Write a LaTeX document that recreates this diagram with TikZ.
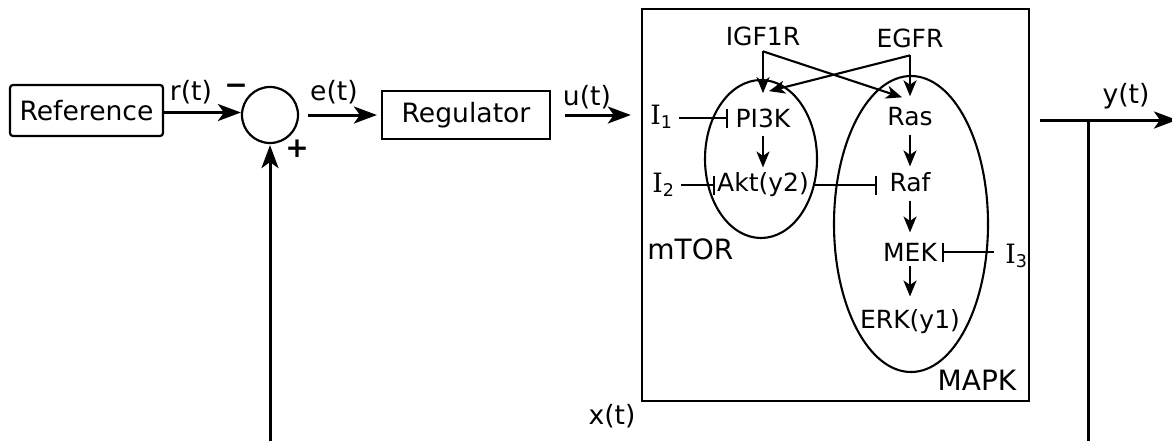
\documentclass[tikz,border=0pt]{standalone}
\usepackage{fontspec}
\setmainfont{DejaVu Sans}
\newfontfamily\serifI{DejaVu Serif}
\usetikzlibrary{arrows.meta,shapes.geometric,calc}
\begin{document}
\begin{tikzpicture}[x=0.5pt,y=-0.5pt,
  font=\fontsize{12.5}{15}\selectfont,
  lbl/.style={inner sep=0pt},
  siglbl/.style={inner sep=0pt,font=\fontsize{13.3}{16}\selectfont},
  biglbl/.style={inner sep=0pt,font=\fontsize{14}{16}\selectfont},
  signlbl/.style={inner sep=0pt,font=\fontsize{14}{16}\selectfont\bfseries},
  blockbox/.style={draw,line width=1.1pt,inner sep=0pt,font=\fontsize{13.3}{16}\selectfont},
  bigarr/.style={line width=1.5pt,-{Stealth[length=11.5pt,width=8.5pt,inset=3pt]}},
  fbline/.style={line width=1.5pt},
  act/.style={line width=1.05pt,-{Stealth[length=8pt,width=6.5pt,inset=2.2pt]}},
  inh/.style={line width=1.05pt,-{Bar[width=9.5pt,line width=1.05pt]}},
  group/.style={draw,ellipse,line width=1.05pt,inner sep=0pt},
]
\useasboundingbox (0,0) rectangle (1172,440);
\fill[white] (0,0) rectangle (1172,440);

% control loop blocks
\node[blockbox,rounded corners=1.5pt,minimum width=76.5pt,minimum height=25.5pt] (ref) at (86.5,110.5) {Reference};
\node[draw,circle,line width=1.1pt,minimum size=28pt,inner sep=0pt] (sum) at (270,115) {};
\node[blockbox,minimum width=84pt,minimum height=24pt] (reg) at (466,115) {Regulator};
\node[draw,line width=1.2pt,minimum width=193.5pt,minimum height=196pt,inner sep=0pt] (sys) at (835.5,205) {};

% signal labels
\node[siglbl] (rt) at (191,92) {r(t)};
\node[siglbl] (et) at (334,92) {e(t)};
\node[siglbl] (ut) at (587,97) {u(t)};
\node[siglbl] (yt) at (1126,96) {y(t)};
\node[siglbl] (xt) at (612,416) {x(t)};
\node[signlbl] (minus) at (236,89) {−};
\node[signlbl] (plus) at (297,149) {+};

% loop connectors
\draw[bigarr] ([yshift=-1pt]ref.east) -- ([yshift=-1pt]ref.east -| sum.west);
\draw[bigarr,shorten <=4.5pt,shorten >=2pt] (sum.east) -- (reg.west);
\draw[bigarr,shorten <=7pt,shorten >=5pt] (reg.east) -- (reg.east -| sys.west);
\coordinate (yout) at (1040,120);
\coordinate (yend) at (1177,120);
\coordinate (fbtop) at (1088,120);
\coordinate (fbbot) at (1088,442);
\coordinate (fbleft) at (270,442);
\draw[bigarr] (yout) -- (yend);
\draw[fbline] (fbtop) -- (fbbot);
\draw[bigarr,shorten >=0.5pt] (fbleft) -- (sum.south);

% inner network
\node[group,minimum width=56pt,minimum height=79pt] (mtorell) at (761,159) {};
\node[group,minimum width=77pt,minimum height=148pt] (mapkell) at (911,224) {};
\node[lbl] (igf) at (763,36.5) {IGF1R};
\node[lbl] (egf) at (910,38.5) {EGFR};
\node[lbl] (pi3k) at (763,118) {PI3K};
\node[lbl] (akt) at (763,185) {Akt(y2)};
\node[lbl] (ras) at (910,117) {Ras};
\node[lbl] (raf) at (910,182.5) {Raf};
\node[lbl] (mek) at (910,252) {MEK};
\node[lbl] (erk) at (910,322) {ERK(y1)};
\node[lbl,anchor=base west] (i1) at (650,124) {{\serifI\fontsize{13.3}{16}\selectfont I}\textsubscript{1}};
\node[lbl,anchor=base west] (i2) at (652,192) {{\serifI\fontsize{13.3}{16}\selectfont I}\textsubscript{2}};
\node[lbl,anchor=base west] (i3) at (1005,263) {{\serifI\fontsize{13.3}{16}\selectfont I}\textsubscript{3}};
\node[biglbl,anchor=west] (mtor) at (647,249) {mTOR};
\node[biglbl] (mapk) at (977,380) {MAPK};

% activations
\draw[act] ([yshift=-2.5pt]igf.south) -- ([yshift=7.5pt]igf.south |- pi3k.north);
\draw[act] ([yshift=-2.5pt]igf.south) -- ([shift={(-4pt,5pt)}]ras.north);
\draw[act] ([yshift=-3.5pt]egf.south) -- ([yshift=5.5pt]egf.south |- ras.north);
\draw[act] ([yshift=-3.5pt]egf.south) -- ([shift={(3pt,8.5pt)}]pi3k.north);
\draw[act] ([yshift=-4pt]pi3k.south) -- ([yshift=2.5pt]pi3k.south |- akt.north);
\draw[act] ([yshift=-4pt]ras.south) -- ([yshift=3pt]ras.south |- raf.north);
\draw[act] ([yshift=-4pt]raf.south) -- ([yshift=5pt]raf.south |- mek.north);
\draw[act] ([yshift=-2pt]mek.south) -- ([yshift=6.5pt]mek.south |- erk.north);

% inhibitions
\draw[inh] ([xshift=3pt]i1.east |- pi3k.west) -- ([xshift=-3.5pt]pi3k.west);
\draw[inh] ([xshift=3pt]i2.east |- akt.west) -- ([xshift=-1pt]akt.west);
\draw[inh] ([xshift=2pt]akt.east) -- ([xshift=-6pt]akt.east -| raf.west);
\draw[inh] ([xshift=-5.5pt]i3.west |- mek.east) -- ([xshift=2.5pt]mek.east);
\end{tikzpicture}
\end{document}
